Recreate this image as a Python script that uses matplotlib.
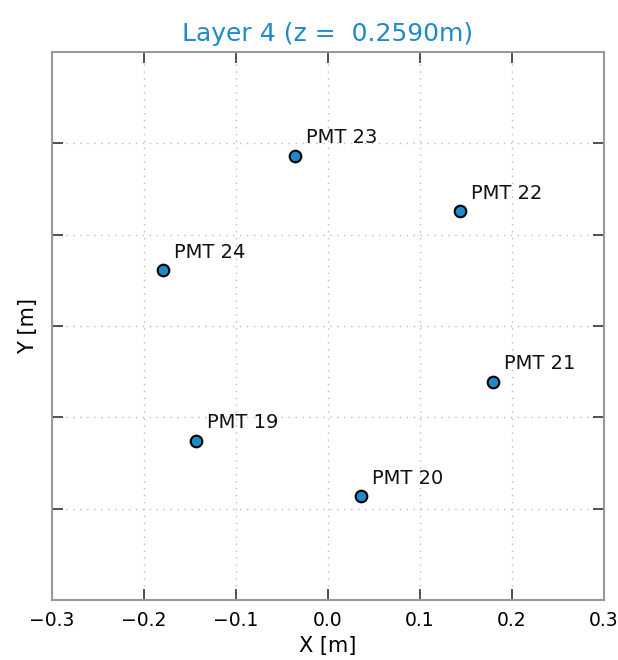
import matplotlib
matplotlib.use("Agg")
import matplotlib.pyplot as plt

labels = ["PMT 19", "PMT 20", "PMT 21", "PMT 22", "PMT 23", "PMT 24"]
xs = [-0.1435, 0.0359, 0.1795, 0.1435, -0.0359, -0.1795]
ys = [-0.1255, -0.1865, -0.0610, 0.1255, 0.1865, 0.0610]

blue = "#1f8ac9"
fig = plt.figure(figsize=(6.18, 6.6), dpi=100)
ax = fig.add_axes([52/618, 60/660, 552/618, 548/660])
ax.scatter(xs, ys, s=70, c=blue, edgecolors="black", linewidths=1.5, zorder=3)
for lab, x, y in zip(labels, xs, ys):
    ax.annotate(lab, (x, y), xytext=(8, 6), textcoords="offset points",
                fontsize=14, color="#111111", va="bottom", ha="left")
ax.set_xlim(-0.3, 0.3)
ax.set_ylim(-0.3, 0.3)
ax.set_xticks([-0.3, -0.2, -0.1, 0.0, 0.1, 0.2, 0.3])
ax.set_yticks([-0.2, -0.1, 0.0, 0.1, 0.2])
ax.set_yticklabels([])
ax.grid(True, linestyle=(0, (1, 4)), color="#bbbbbb", linewidth=1)
ax.tick_params(direction="in", top=True, right=True, length=8, width=1.2,
               color="#333333", labelsize=13.5, pad=8)
for sp in ax.spines.values():
    sp.set_color("#999999")
    sp.set_linewidth(1.5)
ax.set_xlabel("X [m]", fontsize=15, labelpad=4)
ax.set_ylabel("Y [m]", fontsize=15, labelpad=2)
ax.set_title("Layer 4 (z =  0.2590m)", fontsize=18, color=blue, pad=8)
fig.savefig("out.png", dpi=100)
